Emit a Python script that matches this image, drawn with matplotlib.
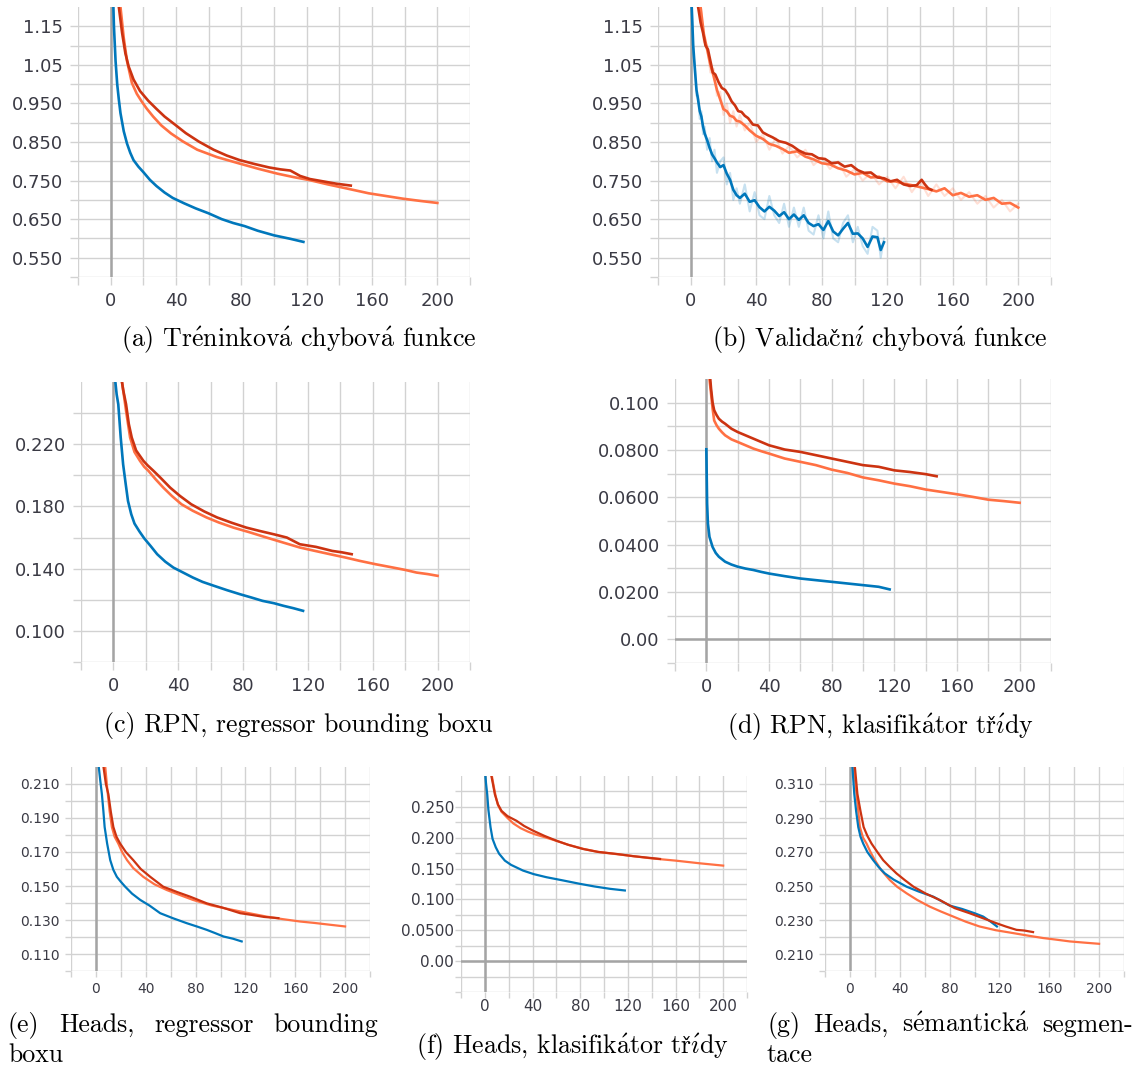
import numpy as np
import matplotlib
matplotlib.use("Agg")
import matplotlib.pyplot as plt

plt.rcParams["mathtext.fontset"] = "cm"

W, H = 1141, 1068

C_LIGHT = "#ff7043"
C_DARK = "#cc3311"
C_BLUE = "#0077bb"
GRID = "#d2d2d2"
ZERO = "#a4a4a4"
TXT = "#3a3a44"

# ========== data (epochs, loss) ==========
# (a) training loss
a_blue_x = [1, 2, 3, 4, 5, 6, 8, 10, 12, 14, 17, 20, 24, 28, 33, 38, 45, 52, 60, 68, 75, 82, 90, 100, 110, 118]
a_blue_y = [1.30, 1.15, 1.06, 1.00, 0.960, 0.925, 0.878, 0.846, 0.822, 0.803, 0.786, 0.772, 0.752, 0.736, 0.719,
            0.705, 0.691, 0.678, 0.665, 0.650, 0.640, 0.632, 0.620, 0.608, 0.599, 0.591]
a_dark_x = [4, 5, 7, 9, 11, 14, 18, 23, 28, 33, 40, 46, 54, 63, 71, 79, 88, 97, 104, 110, 116, 122, 130, 138, 147]
a_dark_y = [1.26, 1.20, 1.133, 1.08, 1.046, 1.012, 0.982, 0.957, 0.936, 0.916, 0.893, 0.873, 0.851, 0.830, 0.815,
            0.803, 0.793, 0.784, 0.779, 0.776, 0.762, 0.754, 0.748, 0.742, 0.737]
a_light_x = [5, 6, 8, 10, 13, 16, 19, 22, 26, 31, 37, 44, 53, 65, 79, 90, 102, 112, 122, 133, 144, 158, 170, 179, 190, 200]
a_light_y = [1.26, 1.20, 1.12, 1.06, 1.003, 0.975, 0.955, 0.937, 0.916, 0.893, 0.872, 0.852, 0.830, 0.811, 0.794,
             0.781, 0.768, 0.759, 0.751, 0.740, 0.730, 0.717, 0.709, 0.703, 0.697, 0.692]

# (b) validation loss
b_blue_x = [0.5, 1.5, 2.5, 3.5, 4.5, 5.5, 6.5, 7.5, 8.5, 10, 11.5, 13, 14.5, 16, 18, 20, 22, 24, 26, 28, 30, 33, 36,
            39, 42, 45, 48, 51, 54, 57, 60, 63, 66, 69, 72, 75, 78, 81, 84, 87, 90, 93, 96, 99, 102, 105, 108, 111,
            114, 116, 118]
b_blue_y = [1.21, 1.10, 1.04, 0.985, 0.959, 0.930, 0.916, 0.890, 0.872, 0.855, 0.835, 0.818, 0.808, 0.797, 0.785,
            0.790, 0.768, 0.752, 0.726, 0.712, 0.705, 0.716, 0.695, 0.699, 0.681, 0.670, 0.682, 0.672, 0.658, 0.668,
            0.650, 0.662, 0.648, 0.660, 0.640, 0.632, 0.637, 0.622, 0.645, 0.618, 0.608, 0.625, 0.640, 0.612, 0.613,
            0.600, 0.578, 0.605, 0.603, 0.570, 0.590]
b_blue_raw = [1.22, 1.08, 1.05, 0.97, 0.97, 0.91, 0.93, 0.87, 0.89, 0.83, 0.86, 0.80, 0.83, 0.77, 0.80, 0.81, 0.74,
              0.77, 0.70, 0.73, 0.69, 0.74, 0.67, 0.72, 0.66, 0.65, 0.71, 0.66, 0.64, 0.69, 0.63, 0.68, 0.63, 0.68,
              0.62, 0.61, 0.66, 0.60, 0.67, 0.60, 0.59, 0.64, 0.66, 0.59, 0.63, 0.58, 0.56, 0.63, 0.62, 0.55, 0.60]
b_dark_x = [4.5, 6, 7.5, 9, 10.5, 12, 13.5, 15, 17, 19, 21, 23, 25, 27, 29, 31, 33, 35, 38, 41, 44, 47, 50, 54, 58,
            62, 66, 70, 74, 78, 82, 86, 90, 94, 98, 102, 106, 110, 114, 118, 122, 126, 130, 134, 138, 141, 143, 145, 147]
b_dark_y = [1.20, 1.16, 1.133, 1.10, 1.09, 1.06, 1.03, 1.025, 1.005, 0.990, 0.985, 0.972, 0.955, 0.945, 0.930, 0.928,
            0.918, 0.912, 0.895, 0.893, 0.875, 0.868, 0.862, 0.852, 0.848, 0.840, 0.828, 0.820, 0.818, 0.808, 0.806,
            0.795, 0.797, 0.786, 0.790, 0.777, 0.770, 0.771, 0.758, 0.756, 0.748, 0.752, 0.740, 0.736, 0.738, 0.752,
            0.740, 0.730, 0.726]
b_light_x = [6, 8, 10, 12, 14, 16, 18, 20, 22, 24, 26, 28, 30, 33, 36, 40, 44, 48, 52, 56, 60, 65, 70, 75, 80, 85,
             90, 95, 100, 105, 110, 115, 120, 125, 130, 135, 140, 145, 150, 155, 160, 165, 170, 175, 180, 185, 190,
             195, 200]
b_light_y = [1.20, 1.13, 1.09, 1.05, 1.02, 0.985, 0.960, 0.935, 0.930, 0.918, 0.915, 0.905, 0.903, 0.893, 0.880,
             0.866, 0.858, 0.845, 0.840, 0.832, 0.822, 0.826, 0.812, 0.805, 0.795, 0.792, 0.782, 0.776, 0.766, 0.770,
             0.758, 0.760, 0.748, 0.748, 0.742, 0.738, 0.733, 0.728, 0.722, 0.730, 0.712, 0.718, 0.708, 0.712, 0.700,
             0.705, 0.690, 0.692, 0.680]
b_light_raw = [1.21, 1.11, 1.10, 1.03, 1.04, 0.97, 0.98, 0.92, 0.95, 0.90, 0.93, 0.89, 0.92, 0.88, 0.90, 0.85, 0.87,
               0.83, 0.86, 0.82, 0.84, 0.81, 0.83, 0.79, 0.81, 0.78, 0.80, 0.76, 0.78, 0.75, 0.77, 0.74, 0.76, 0.73,
               0.76, 0.72, 0.75, 0.71, 0.74, 0.71, 0.73, 0.70, 0.72, 0.69, 0.71, 0.68, 0.70, 0.67, 0.69]

# (c) RPN bbox regressor
c_blue_x = [1, 2, 3, 4.5, 6, 7.5, 9, 11, 13, 16, 19, 23, 27, 32, 37, 43, 49, 55, 62, 70, 78, 85, 92, 99, 105, 111, 117]
c_blue_y = [0.262, 0.252, 0.2457, 0.2243, 0.207, 0.195, 0.1835, 0.175, 0.169, 0.164, 0.1595, 0.1545, 0.1493, 0.1445,
            0.1407, 0.1375, 0.1343, 0.1315, 0.1290, 0.1262, 0.1236, 0.1215, 0.1193, 0.1178, 0.1161, 0.1146, 0.1129]
c_dark_x = [5, 6, 7.8, 9.5, 11.3, 14, 18.5, 21, 24.7, 29, 35, 41, 48, 56, 64, 73, 82, 90, 99, 107, 115, 125, 135, 141, 147]
c_dark_y = [0.262, 0.255, 0.2457, 0.233, 0.2243, 0.216, 0.2093, 0.2065, 0.2029, 0.1985, 0.1921, 0.1868, 0.1814,
            0.1768, 0.1729, 0.1695, 0.1664, 0.1643, 0.1621, 0.1600, 0.1557, 0.1540, 0.1514, 0.1505, 0.1493]
c_light_x = [5, 6, 8, 10.3, 13, 16.4, 19, 21.6, 26, 30.8, 36, 42, 49, 57.5, 65, 74, 84, 94.5, 105, 115, 124, 133.6,
             143, 152, 162, 172.6, 180, 187, 194, 200]
c_light_y = [0.262, 0.255, 0.240, 0.2243, 0.215, 0.2093, 0.2055, 0.2029, 0.1975, 0.1921, 0.1868, 0.1814, 0.1772,
             0.1729, 0.1697, 0.1664, 0.1634, 0.1600, 0.1567, 0.1536, 0.1515, 0.1493, 0.1472, 0.1450, 0.1428, 0.1407,
             0.1392, 0.1375, 0.1365, 0.1354]

# (d) RPN class
d_blue_x = [0, 0.5, 1, 2, 4, 6, 8, 12, 16, 20, 25, 30, 35, 40, 50, 60, 70, 80, 90, 100, 110, 117]
d_blue_y = [0.0803, 0.0574, 0.049, 0.0433, 0.039, 0.0365, 0.0349, 0.0328, 0.0316, 0.0307, 0.0299, 0.0293, 0.0285,
            0.0278, 0.0267, 0.0257, 0.0250, 0.0243, 0.0236, 0.0229, 0.0222, 0.0211]
d_dark_x = [2.5, 3, 4, 5, 6.5, 8, 10, 12, 16, 20, 25, 30, 35, 40, 50, 60, 70, 80, 90, 100, 110, 120, 130, 140, 147]
d_dark_y = [0.110, 0.106, 0.100, 0.0968, 0.0948, 0.0932, 0.0920, 0.0911, 0.0890, 0.0876, 0.0862, 0.0848, 0.0834,
            0.0820, 0.0802, 0.0792, 0.0778, 0.0764, 0.0750, 0.0736, 0.0729, 0.0714, 0.0707, 0.0698, 0.0689]
d_light_x = [2, 3, 4, 5, 6.5, 8, 10, 12, 16, 20, 25, 30, 35, 40, 50, 60, 70, 80, 90, 100, 110, 120, 130, 140, 150,
             160, 170, 180, 190, 200]
d_light_y = [0.110, 0.104, 0.0975, 0.0925, 0.0905, 0.0890, 0.0875, 0.0862, 0.0845, 0.0834, 0.0820, 0.0806, 0.0795,
             0.0785, 0.0764, 0.0750, 0.0736, 0.0717, 0.0703, 0.0684, 0.0672, 0.0658, 0.0647, 0.0633, 0.0623, 0.0613,
             0.0602, 0.0590, 0.0584, 0.0577]

# (e) heads bbox regressor
e_blue_x = [2, 3.5, 4.8, 6, 7, 9, 11.5, 14, 16.8, 20, 23.5, 29, 35.6, 43, 51.6, 62, 73, 81, 89, 96, 102.4, 110, 117]
e_blue_y = [0.222, 0.212, 0.204, 0.194, 0.1847, 0.175, 0.1652, 0.1595, 0.1554, 0.1525, 0.1496, 0.1455, 0.1418,
            0.1385, 0.1340, 0.1310, 0.1281, 0.1262, 0.1242, 0.1222, 0.1203, 0.1190, 0.1174]
e_dark_x = [6, 8, 10, 12, 14, 16.5, 19.5, 24, 30, 36, 43.6, 54, 65, 75.7, 89, 102, 115.8, 125, 135, 146.5]
e_dark_y = [0.2205, 0.210, 0.204, 0.1935, 0.1847, 0.179, 0.1749, 0.170, 0.1652, 0.160, 0.1554, 0.1496, 0.1465,
            0.1437, 0.1398, 0.1372, 0.1340, 0.1330, 0.1318, 0.1311]
e_light_x = [7.5, 9, 11, 12.8, 15, 18, 21, 25, 30, 38, 47, 57, 67, 78, 93, 110, 123, 137, 150, 164, 175, 188, 200]
e_light_y = [0.220, 0.208, 0.194, 0.1847, 0.179, 0.1749, 0.170, 0.1652, 0.1605, 0.1554, 0.1510, 0.1476, 0.1448,
             0.1418, 0.1385, 0.1359, 0.1340, 0.1320, 0.1305, 0.1291, 0.1283, 0.1272, 0.1262]

# (f) heads class
f_blue_x = [0.5, 1, 2, 3, 4.8, 6.5, 9.2, 12, 16.8, 22, 32, 41, 51.7, 65, 79.7, 92, 105, 117.5]
f_blue_y = [0.299, 0.288, 0.2704, 0.245, 0.2167, 0.198, 0.1844, 0.174, 0.1629, 0.156, 0.1468, 0.141, 0.136, 0.131,
            0.1253, 0.121, 0.1172, 0.1145]
f_dark_x = [5.6, 7, 8.4, 11, 14, 19, 26.6, 33, 40.6, 50, 60, 70, 82.5, 95, 110.5, 125, 135, 147]
f_dark_y = [0.299, 0.285, 0.2704, 0.254, 0.2435, 0.235, 0.2274, 0.219, 0.2113, 0.203, 0.1952, 0.1885, 0.1817, 0.177,
            0.1737, 0.170, 0.168, 0.1656]
f_light_x = [6, 7.5, 9, 11, 14, 19, 24, 30, 36, 42, 50, 60, 70, 82.5, 95, 110, 125, 140, 160, 180, 200]
f_light_y = [0.299, 0.283, 0.268, 0.253, 0.242, 0.232, 0.223, 0.2155, 0.210, 0.2055, 0.201, 0.195, 0.1885, 0.182,
             0.177, 0.1735, 0.170, 0.1665, 0.1629, 0.1586, 0.1548]

# (g) heads semantic segmentation
g_blue_x = [2, 3.5, 5, 6.7, 8.5, 10.7, 14, 18.7, 23, 28, 35, 45.5, 55, 67, 80, 90, 100, 107, 113, 118]
g_blue_y = [0.320, 0.3042, 0.294, 0.2847, 0.279, 0.2749, 0.270, 0.2652, 0.2612, 0.2574, 0.2538, 0.2496, 0.2468,
            0.2437, 0.2385, 0.2365, 0.2340, 0.2320, 0.2290, 0.2262]
g_dark_x = [4, 6, 8.5, 11, 14, 17.4, 22, 26.7, 32, 37.4, 44, 51, 61, 72, 84, 96, 107, 117.6, 125, 133.7, 140, 147]
g_dark_y = [0.320, 0.3042, 0.294, 0.2847, 0.2795, 0.2749, 0.270, 0.2652, 0.2612, 0.2574, 0.2535, 0.2496, 0.2455,
            0.2418, 0.2370, 0.2340, 0.2310, 0.2281, 0.2262, 0.2242, 0.2238, 0.2229]
g_light_x = [3, 5.3, 8, 10.5, 13.4, 16.5, 20, 25, 32, 38, 45.5, 54, 64, 73, 83, 93, 104, 117, 131, 143, 155, 165,
             176.5, 188, 200]
g_light_y = [0.320, 0.3042, 0.2847, 0.2785, 0.2749, 0.270, 0.2652, 0.2595, 0.2535, 0.2495, 0.2457, 0.2418, 0.2379,
             0.2350, 0.2320, 0.2290, 0.2262, 0.2240, 0.2223, 0.2208, 0.2194, 0.2185, 0.2174, 0.2167, 0.2160]

# y ticks per panel: labelled positions, labels, unlabelled grid positions
a_yt = [0.55, 0.65, 0.75, 0.85, 0.95, 1.05, 1.15]
a_yl = ["0.550", "0.650", "0.750", "0.850", "0.950", "1.05", "1.15"]
a_ym = [0.50, 0.60, 0.70, 0.80, 0.90, 1.00, 1.10]
c_yt = [0.10, 0.14, 0.18, 0.22]
c_yl = ["0.100", "0.140", "0.180", "0.220"]
c_ym = [0.08, 0.12, 0.16, 0.20, 0.24]
d_yt = [0.0, 0.02, 0.04, 0.06, 0.08, 0.10]
d_yl = ["0.00", "0.0200", "0.0400", "0.0600", "0.0800", "0.100"]
d_ym = [-0.01, 0.01, 0.03, 0.05, 0.07, 0.09]
e_yt = [0.11, 0.13, 0.15, 0.17, 0.19, 0.21]
e_yl = ["0.110", "0.130", "0.150", "0.170", "0.190", "0.210"]
e_ym = [0.10, 0.12, 0.14, 0.16, 0.18, 0.20]
f_yt = [0.0, 0.05, 0.10, 0.15, 0.20, 0.25]
f_yl = ["0.00", "0.0500", "0.100", "0.150", "0.200", "0.250"]
f_ym = [-0.05, -0.025, 0.025, 0.075, 0.125, 0.175, 0.225, 0.275]
g_yt = [0.21, 0.23, 0.25, 0.27, 0.29, 0.31]
g_yl = ["0.210", "0.230", "0.250", "0.270", "0.290", "0.310"]
g_ym = [0.20, 0.22, 0.24, 0.26, 0.28, 0.30]

x_major = [0, 40, 80, 120, 160, 200]
x_minor = [-20, 20, 60, 100, 140, 180, 220]

fig = plt.figure(figsize=(W / 100, H / 100), dpi=100)


def make_ax(box, ylim, yt, yl, ym, fs, tlen, pad, zero_h=False):
    l, t, r, b = box
    ax = fig.add_axes([l / W, 1 - b / H, (r - l) / W, (b - t) / H])
    ax.set_xlim(-20, 220)
    ax.set_ylim(*ylim)
    ax.set_xticks(x_major, [str(v) for v in x_major])
    ax.set_xticks(x_minor, minor=True)
    ax.set_yticks(yt, yl)
    ax.set_yticks(ym, minor=True)
    for s in ax.spines.values():
        s.set_visible(False)
    ax.grid(True, which="both", color=GRID, lw=1.0, zorder=0)
    ax.tick_params(which="both", direction="out", length=tlen, width=1.0, color=GRID,
                   labelsize=fs, labelcolor=TXT, pad=pad)
    ax.axvline(0, color=ZERO, lw=1.8, zorder=1)
    if zero_h:
        ax.axhline(0, color=ZERO, lw=1.8, zorder=1)
    ax.set_axisbelow(True)
    return ax


def draw(ax, series, lw=1.9):
    for x, y, c in series:
        ax.plot(x, y, color=c, lw=lw, zorder=3, solid_joinstyle="round")


ax_a = make_ax((78, 7, 470, 277), (0.50, 1.20), a_yt, a_yl, a_ym, 13, 6, 5)
draw(ax_a, [(a_light_x, a_light_y, C_LIGHT), (a_dark_x, a_dark_y, C_DARK), (a_blue_x, a_blue_y, C_BLUE)])

ax_b = make_ax((658, 7, 1051, 277), (0.50, 1.20), a_yt, a_yl, a_ym, 13, 6, 5)
ax_b.plot(b_blue_x, b_blue_raw, color=C_BLUE, lw=1.5, alpha=0.22, zorder=2)
ax_b.plot(b_light_x, b_light_raw, color=C_LIGHT, lw=1.5, alpha=0.22, zorder=2)
draw(ax_b, [(b_light_x, b_light_y, C_LIGHT), (b_dark_x, b_dark_y, C_DARK), (b_blue_x, b_blue_y, C_BLUE)])

ax_c = make_ax((81, 382, 470, 662), (0.08, 0.26), c_yt, c_yl, c_ym, 13, 6, 5)
draw(ax_c, [(c_light_x, c_light_y, C_LIGHT), (c_dark_x, c_dark_y, C_DARK), (c_blue_x, c_blue_y, C_BLUE)])

ax_d = make_ax((675, 379, 1051, 663), (-0.01, 0.11), d_yt, d_yl, d_ym, 13, 6, 5, zero_h=True)
draw(ax_d, [(d_light_x, d_light_y, C_LIGHT), (d_dark_x, d_dark_y, C_DARK), (d_blue_x, d_blue_y, C_BLUE)])

ax_e = make_ax((71, 767, 370, 971), (0.10, 0.22), e_yt, e_yl, e_ym, 10, 4, 4)
draw(ax_e, [(e_light_x, e_light_y, C_LIGHT), (e_dark_x, e_dark_y, C_DARK), (e_blue_x, e_blue_y, C_BLUE)], lw=1.6)

ax_f = make_ax((461, 776, 747, 992), (-0.05, 0.30), f_yt, f_yl, f_ym, 11, 4, 1, zero_h=True)
draw(ax_f, [(f_light_x, f_light_y, C_LIGHT), (f_dark_x, f_dark_y, C_DARK), (f_blue_x, f_blue_y, C_BLUE)], lw=1.6)

ax_g = make_ax((825, 767, 1124, 971), (0.20, 0.32), g_yt, g_yl, g_ym, 10, 4, 4)
draw(ax_g, [(g_light_x, g_light_y, C_LIGHT), (g_blue_x, g_blue_y, C_BLUE), (g_dark_x, g_dark_y, C_DARK)], lw=1.6)

# ========== captions ==========
CAP_FONT = ["cmr10", "DejaVu Serif"]
CAP_FS = 18.6

# acute accents via mathtext (Computer Modern); carons are overlaid by hand
ACC = {"é": r"$\acute{\mathrm{e}}$", "á": r"$\acute{\mathrm{a}}$", "í": r"$\acute{\imath}$"}
CARON = {"č": "c", "ř": "r"}

rend = fig.canvas.get_renderer()


def tex(s):
    return "".join(ACC.get(ch, ch) for ch in s)


def text_w(s):
    if not s:
        return 0.0
    t = fig.text(0, 0, tex(s), fontsize=CAP_FS, family=CAP_FONT)
    w = t.get_window_extent(rend).width
    t.remove()
    return w


def cap(x, y, s, ha="center"):
    plain = "".join(CARON.get(ch, ch) for ch in s)
    t = fig.text(x / W, 1 - y / H, tex(plain), ha=ha, va="baseline", fontsize=CAP_FS, family=CAP_FONT,
                 color="black")
    x0 = t.get_window_extent(rend).x0
    for i, ch in enumerate(s):
        if ch in CARON:
            cx = x0 + (text_w(plain[:i]) + text_w(plain[:i + 1])) / 2
            fig.text(cx / W, 1 - y / H, "ˇ", ha="center", va="baseline", fontsize=CAP_FS * 0.85,
                     family="DejaVu Serif", color="black")


def cap_justified(words, x0, x1, y):
    texts = [fig.text(0, 1 - y / H, tex(w), ha="left", va="baseline", fontsize=CAP_FS, family=CAP_FONT)
             for w in words]
    widths = [t.get_window_extent(rend).width for t in texts]
    gap = ((x1 - x0) - sum(widths)) / (len(words) - 1)
    x = x0
    for t, w in zip(texts, widths):
        t.set_x(x / W)
        x += w + gap


cap(299, 347, "(a) Tréninková chybová funkce")
cap(880, 347, "(b) Validační chybová funkce")
cap(298, 732, "(c) RPN, regressor bounding boxu")
cap(880, 734, "(d) RPN, klasifikátor třídy")
cap_justified(["(e)", "Heads,", "regressor", "bounding"], 8, 378, 1032)
cap(8, 1062, "boxu", ha="left")
cap(572, 1054, "(f) Heads, klasifikátor třídy")
cap_justified(["(g)", "Heads,", "sémantická", "segmen-"], 767, 1133, 1032)
cap(767, 1062, "tace", ha="left")

fig.savefig("out.png", dpi=100)
